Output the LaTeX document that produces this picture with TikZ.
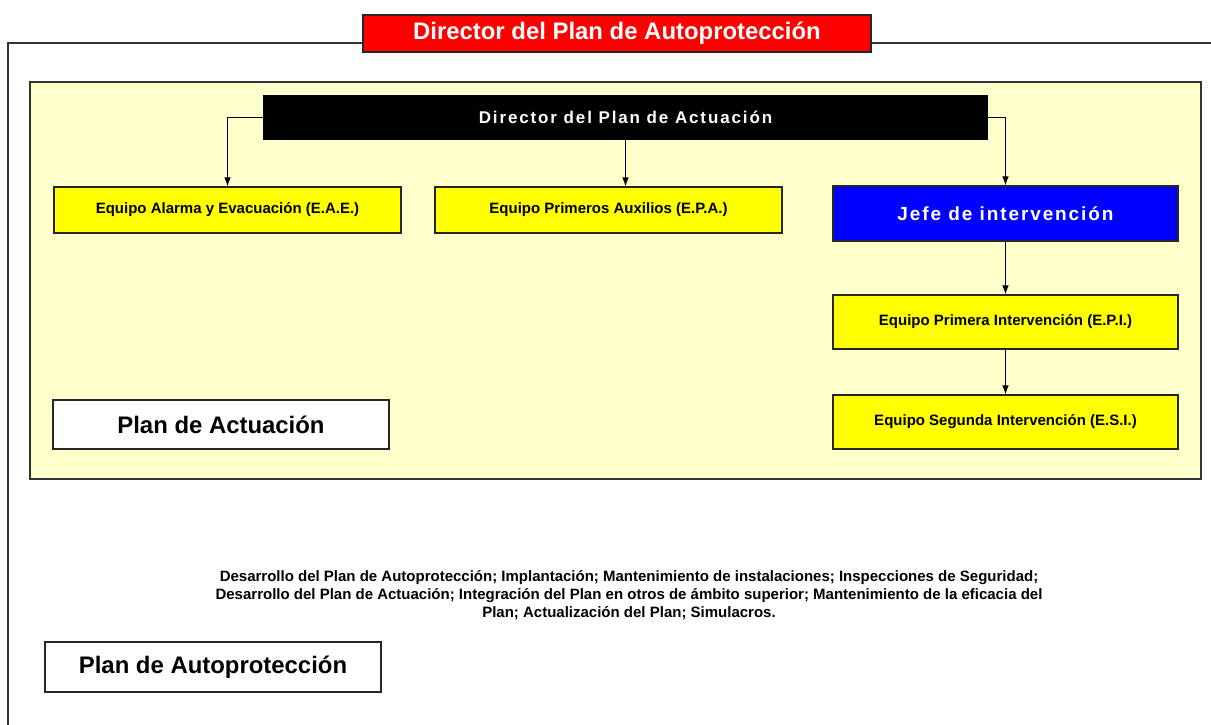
\documentclass[tikz,border=0pt]{standalone}
\usepackage{fontspec}
\setmainfont{Liberation Sans}
\usetikzlibrary{shadows,arrows.meta}
\definecolor{panelyellow}{HTML}{FFFFCC}
\definecolor{boxyellow}{HTML}{FFFF00}
\definecolor{jefeblue}{HTML}{0000FF}
\definecolor{titlered}{HTML}{FF0000}
\tikzset{
  shadowed/.style={drop shadow={shadow xshift=1.2pt,shadow yshift=-1.2pt,fill=black!55,opacity=1}},
  teambox/.style={draw=black!85,line width=1.1pt,fill=boxyellow,shadowed,
    minimum width=347pt,minimum height=46pt,inner sep=0pt,
    font=\fontsize{15}{18}\selectfont\bfseries},
  planbox/.style={draw=black!85,line width=1.1pt,fill=white,shadowed,
    minimum width=336pt,minimum height=49pt,inner sep=0pt,
    font=\fontsize{23.9}{28}\selectfont\bfseries},
  link/.style={line width=1pt,-{Latex[length=9pt,width=6.5pt]}}
}

\begin{document}
\begin{tikzpicture}[x=1pt,y=-1pt]
            \useasboundingbox (0,0) rectangle (1211,725);
            % marco del plan de autoproteccion
            \draw[line width=1.2pt,black!80] (8,725) -- (8,43) -- (1211,43);
            \node[draw=black!85,line width=1.1pt,fill=titlered,text=white,shadowed,
                  minimum width=508pt,minimum height=37pt,inner sep=0pt,
                  font=\fontsize{23.9}{28}\selectfont\bfseries] (dirauto) at (617,33.5) {Director del Plan de Autoprotección};
            % plan de actuacion
            \draw[line width=1.2pt,black!80,fill=panelyellow] (30,82) rectangle (1201,479);
            \node[fill=black,text=white,minimum width=725pt,minimum height=45pt,inner sep=0pt,
                  font=\fontsize{17}{20}\selectfont\bfseries\addfontfeature{LetterSpace=11}] (diract) at (625.5,117.5) {Director del Plan de Actuación};
            \node[teambox] (eae) at (227.5,210) {Equipo Alarma y Evacuación (E.A.E.)};
            \node[teambox] (epa) at (608.5,210) {Equipo Primeros Auxilios (E.P.A.)};
            \node[teambox,fill=jefeblue,text=white,minimum width=345pt,minimum height=55pt,
                  font=\fontsize{19}{22}\selectfont\bfseries\addfontfeature{LetterSpace=10}] (jefe) at (1005.5,213.5) {Jefe de intervención};
            \node[teambox,minimum width=345pt,minimum height=54pt] (epi) at (1005.5,322) {Equipo Primera Intervención (E.P.I.)};
            \node[teambox,minimum width=345pt,minimum height=54pt] (esi) at (1005.5,422) {Equipo Segunda Intervención (E.S.I.)};
            \node[planbox] (pact) at (221,424.5) {Plan de Actuación};
            \draw[link] (diract.west) -| (eae.north);
            \draw[link] (diract.south) -- (diract.south |- epa.north);
            \draw[link] (diract.east) -| (jefe.north);
            \draw[link] (jefe) -- (epi);
            \draw[link] (epi) -- (esi);
            % funciones
            \node[align=center,font=\fontsize{15}{18}\selectfont\bfseries] (tareas) at (629,595)
                {Desarrollo del Plan de Autoprotección; Implantación; Mantenimiento de instalaciones; Inspecciones de Seguridad;\\
                 Desarrollo del Plan de Actuación; Integración del Plan en otros de ámbito superior; Mantenimiento de la eficacia del\\
                 Plan; Actualización del Plan; Simulacros.};
            \node[planbox,minimum height=50pt] (pauto) at (213,667) {Plan de Autoprotección};
        \end{tikzpicture}
\end{document}
